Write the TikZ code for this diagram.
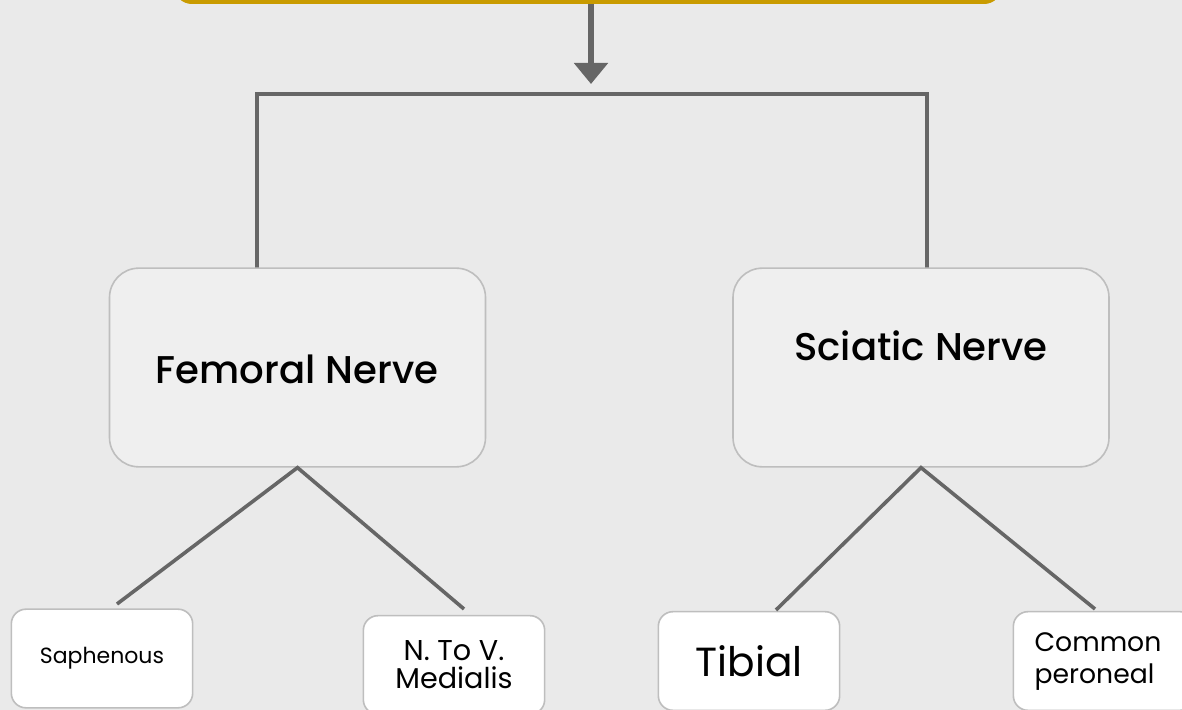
\documentclass[tikz,border=0pt]{standalone}
\usepackage{fontspec}
\setmainfont{Poppins}
\newfontfamily\mediumfont{Poppins Medium}
\usetikzlibrary{arrows.meta}

\definecolor{pagegray}{RGB}{234,234,234}
\definecolor{boxgray}{RGB}{239,239,239}
\definecolor{rimgray}{RGB}{190,190,190}
\definecolor{linegray}{RGB}{102,102,102}
\definecolor{gold}{RGB}{201,155,0}

\tikzset{every picture/.style={line width=0.75pt}}
\tikzset{
  nervebox/.style={draw=rimgray, fill=boxgray, line width=1.2pt, rounded corners=22pt,
    minimum width=282pt, minimum height=149pt, inner sep=0pt},
  branchbox/.style={draw=rimgray, fill=white, line width=1.2pt, rounded corners=11pt,
    minimum width=136pt, minimum height=74pt, inner sep=0pt},
  nervetext/.style={font=\mediumfont\fontsize{29}{34}\selectfont},
  link/.style={draw=linegray, line width=2.7pt}
}

\begin{document}
\begin{tikzpicture}[x=0.75pt,y=0.75pt,yscale=-1,xscale=1]
		\useasboundingbox (0,0) rectangle (1182,710);
		\clip (0,0) rectangle (1182,710);
		\fill [pagegray] (0,0) rectangle (1182,710);

		% Title box, only its lower rim shows
		\node (title) [draw=gold, line width=3pt, rounded corners=12pt, minimum width=618pt, minimum height=60pt] at (588,-38) {};
		\coordinate (split) at (591,84);
		\draw [link, line width=4.9pt, -{Triangle[width=24.75pt,length=15.75pt]}] (title.south -| split) -- (split);

		% Bracket
		\coordinate (bl) at (257,94);
		\coordinate (br) at (927,94);
		\coordinate (blend) at (257,268);
		\coordinate (brend) at (927,278);
		\draw [link] (blend) -- (bl) -- (br) -- (brend);

		% Nerves
		\node (femoral) [nervebox] at (297.5,367.5) {};
		\node (femoraltext) [nervetext] at (297,369) {Femoral Nerve};
		\node (sciatic) [nervebox] at (921,367.5) {};
		\node (sciatictext) [nervetext] at (921,346) {Sciatic Nerve};

		% Branches
		\node (saphenous) [branchbox, font=\fontsize{16.5}{20}\selectfont] at (102,658.5) {Saphenous};
		\node (medialis) [branchbox, align=center, font=\fontsize{21.5}{21}\selectfont] at (454,665) {N. To V.\\ Medialis};
		\node (tibial) [branchbox, font=\fontsize{30.5}{34}\selectfont] at (749,661) {Tibial};
		\node (peroneal) [branchbox] at (1104,661) {};
		\node (peronealtext) [align=left, font=\fontsize{20}{24}\selectfont] at (1098,662) {Common\\ peroneal};

		\coordinate (saphenoustop) at (117,604);
		\coordinate (medialistop) at (464,609);
		\coordinate (tibialtop) at (776,610);
		\coordinate (peronealtop) at (1095,609);
		\draw [link] (saphenoustop) -- (femoral.south) -- (medialistop);
		\draw [link] (tibialtop) -- (sciatic.south) -- (peronealtop);

\end{tikzpicture}
\end{document}
